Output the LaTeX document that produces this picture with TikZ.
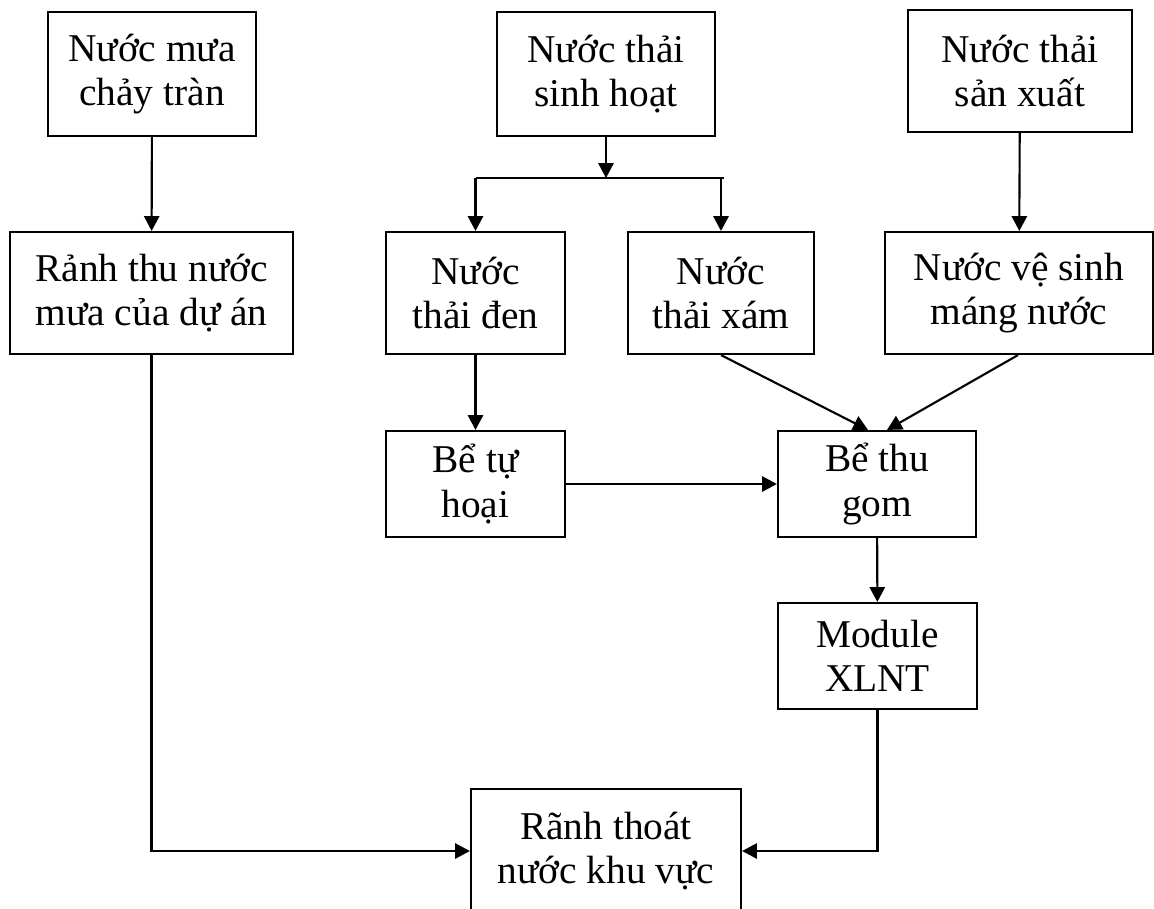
\documentclass[tikz,border=0pt]{standalone}
\usepackage{fontspec}
\setmainfont{Liberation Serif}
\usetikzlibrary{arrows.meta, positioning, calc}

\begin{document}
\begin{tikzpicture}[
    x=0.025cm, y=-0.025cm,
    flow/.style={draw, line width=1.5pt, inner sep=2pt, align=center,
                 font=\fontsize{28}{31.5}\selectfont},
    link/.style={line width=1.5pt},
    >={Triangle[length=0.37cm, width=0.38cm]}
]
\useasboundingbox (0,0) rectangle (1154,908);

% sources
\node[flow, minimum width=5.2cm, minimum height=3.1cm] (rain) at (152,74) {Nước mưa\\chảy tràn};
\node[flow, minimum width=5.45cm, minimum height=3.1cm] (dom) at (606,74) {Nước thải\\sinh hoạt};
\node[flow, minimum width=5.6cm, minimum height=3.05cm] (prod) at (1020,71) {Nước thải\\sản xuất};

% second row
\node[flow, minimum width=7.075cm, minimum height=3.05cm] (ditch) at (151.5,293) {Rảnh thu nước\\mưa của dự án};
\node[flow, minimum width=4.475cm, minimum height=3.05cm] (black) at (475.5,293) {Nước\\thải đen};
\node[flow, minimum width=4.65cm, minimum height=3.05cm] (grey) at (721,293) {Nước\\thải xám};
\node[flow, minimum width=6.7cm, minimum height=3.05cm] (clean) at (1019,293) {Nước vệ sinh\\máng nước};

% tanks
\node[flow, minimum width=4.475cm, minimum height=2.65cm] (septic) at (475.5,484) {Bể tự\\hoại};
\node[flow, minimum width=4.95cm, minimum height=2.65cm] (collect) at (877,484) {Bể thu\\gom};
\node[flow, minimum width=4.975cm, minimum height=2.65cm] (module) at (877.5,656) {Module\\XLNT};
\node[flow, minimum width=6.75cm, minimum height=3.1cm] (drain) at (606,851) {Rãnh thoát\\nước khu vực};

% split of domestic water
\coordinate (split) at (606,178);
\coordinate (splitL) at (black |- split);
\coordinate (splitR) at (724,178);

\draw[link, ->] (rain) -- (ditch);
\draw[link, ->] (dom) -- (split);
\draw[link] (splitL) -- (splitR);
\draw[link, ->] (splitL) -- (black);
\draw[link, ->] (grey |- split) -- (grey);
\draw[link, ->] (prod) -- (clean);

\draw[link, ->] (black) -- (septic);
\draw[link, ->] (grey.south) -- ([xshift=-0.225cm]collect.north);
\draw[link, ->] ([xshift=-0.025cm]clean.south) -- ([xshift=0.25cm]collect.north);
\draw[link, ->] (septic) -- (collect);
\draw[link, ->] (collect) -- (module);

\draw[link, ->] (ditch) |- (drain);
\draw[link, ->] (module) |- (drain);
\end{tikzpicture}
\end{document}
